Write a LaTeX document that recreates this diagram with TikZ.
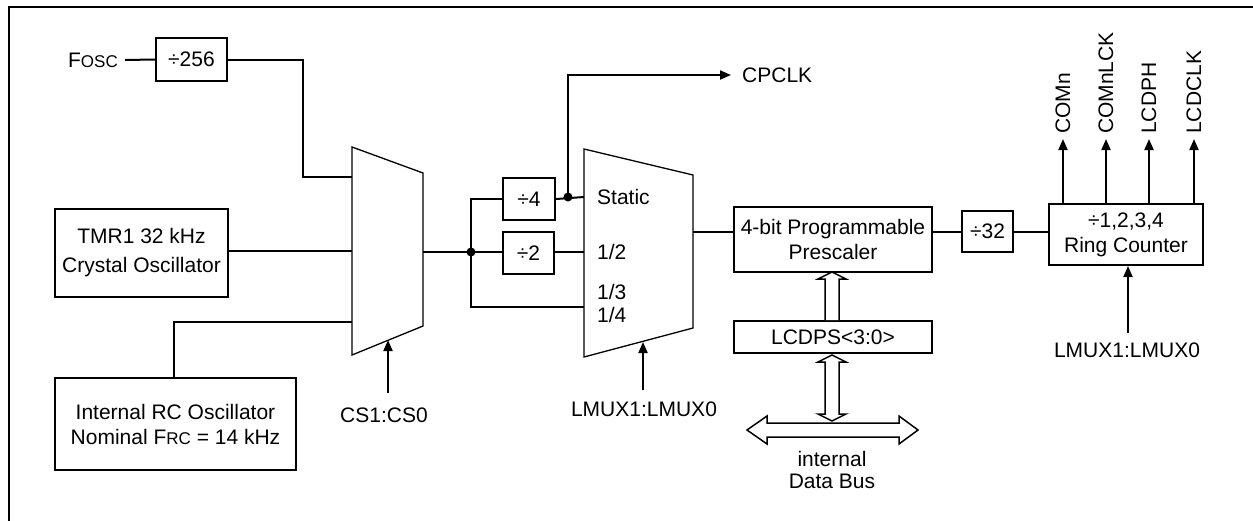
\documentclass[tikz,border=0pt]{standalone}
\usepackage{fontspec}
\setmainfont{Liberation Sans}
\usetikzlibrary{arrows.meta}
\begin{document}
\begin{tikzpicture}[x=1pt,y=-1pt,
  every node/.style={font=\fontsize{21}{25}\selectfont},
  blk/.style={draw,line width=2pt,inner sep=0pt,align=center},
  wire/.style={line width=2pt},
  sig/.style={line width=2pt,-{Triangle[length=11pt,width=9pt]}},
  muxshape/.style={draw,line width=1.3pt,fill=white},
  hollow/.style={draw,line width=1.5pt,fill=white,line join=miter},
  lbl/.style={inner sep=0pt},
  dot/.style={circle,fill,inner sep=0pt,minimum size=9pt}]
\useasboundingbox (0,0) rectangle (1253,520);
% outer frame (only top and left visible)
\draw[line width=2pt] (9,525) -- (9,7) -- (1260,7);
% muxes
\draw[muxshape] (352,147) -- (423,173) -- (423,326) -- (352,355) -- cycle;
\draw[muxshape] (584,149) -- (693,175) -- (693,328) -- (584,357) -- cycle;
\coordinate (m1a) at (352,177);
\coordinate (m1b) at (352,251);
\coordinate (m1c) at (352,322);
\coordinate (m1o) at (423,252);
\coordinate (m1s) at (388,340);
\coordinate (m2a) at (584,197);
\coordinate (m2b) at (584,252);
\coordinate (m2c) at (584,307);
\coordinate (m2o) at (693,232);
\coordinate (m2s) at (643,342);
% blocks
\node[blk,minimum width=71pt,minimum height=43pt] (d256) at (191.5,59.5) {÷256};
\node[blk,minimum width=173pt,minimum height=88pt,font=\fontsize{21}{29}\selectfont] (tmr) at (141.5,253) {TMR1 32 kHz\\Crystal Oscillator};
\node[blk,minimum width=241pt,minimum height=92pt] (rc) at (175.5,424) {Internal RC Oscillator\\Nominal F{\fontsize{17}{17}\selectfont RC} = 14 kHz};
\node[blk,minimum width=52pt,minimum height=42pt] (d4) at (529,199) {÷4};
\node[blk,minimum width=51pt,minimum height=42pt] (d2) at (528.5,253) {÷2};
\node[blk,minimum width=198pt,minimum height=65pt] (pre) at (833,239.5) {4-bit Programmable\\Prescaler};
\node[blk,minimum width=198pt,minimum height=32pt] (ps) at (833,337) {LCDPS<3:0>};
\node[blk,minimum width=51pt,minimum height=41pt] (d32) at (987.5,231.5) {÷32};
\node[blk,minimum width=154pt,minimum height=61pt] (ring) at (1126,234.5) {÷1,2,3,4\\Ring Counter};
% labels
\node[lbl,anchor=east,inner xsep=7pt] (fosc) at (125,60) {F{\fontsize{17}{17}\selectfont OSC}};
\node[lbl,anchor=west,inner xsep=11pt] (cpclk) at (731,75) {CPCLK};
\node[lbl,anchor=west] at (597,197) {Static};
\node[lbl,anchor=west] at (597,252) {1/2};
\node[lbl,anchor=west] at (597,292) {1/3};
\node[lbl,anchor=west] at (597,315) {1/4};
\node[lbl] (cs) at (384,415) {CS1:CS0};
\node[lbl] (lm2) at (644,409) {LMUX1:LMUX0};
\node[lbl] (lm3) at (1127,350) {LMUX1:LMUX0};
\node[lbl] at (832,459) {internal};
\node[lbl] at (832,481) {Data Bus};
% outputs of ring counter
\node[lbl,anchor=west,rotate=90,inner xsep=5pt] (o1) at (1063,139) {COMn};
\node[lbl,anchor=west,rotate=90,inner xsep=5pt] (o2) at (1106,139) {COMnLCK};
\node[lbl,anchor=west,rotate=90,inner xsep=5pt] (o3) at (1149,139) {LCDPH};
\node[lbl,anchor=west,rotate=90,inner xsep=5pt] (o4) at (1194,139) {LCDCLK};
% connectors
\draw[wire] (fosc.east) -- (d256.west);
\draw[wire] (d256.east) -| (303,177) -- (m1a);
\draw[wire] (tmr.east |- m1b) -- (m1b);
\draw[wire] (rc.north -| 174,0) |- (m1c);
\node[dot] (j1) at (471,252) {};
\node[dot] (j2) at (568,197) {};
\draw[wire] (m1o) -- (j1.center) -- (d2.west |- j1);
\draw[wire] (j1.center) |- (d4.west);
\draw[wire] (j1.center) |- (m2c);
\draw[wire] (d4.east) -- (m2a);
\draw[wire] (d2.east |- m2b) -- (m2b);
\draw[sig] (j2.center) |- (cpclk.west);
\draw[wire] (m2o) -- (pre.west |- m2o);
\draw[wire] (pre.east |- d32) -- (d32.west);
\draw[wire] (d32.east) -- (ring.west |- d32);
\coordinate (cs0) at (388,393);
\coordinate (lm20) at (643,390);
\coordinate (lm30) at (1128,333);
\draw[sig] (cs0) -- (m1s);
\draw[sig] (lm20) -- (m2s);
\draw[sig] (lm30) -- (ring.south -| lm30);
\foreach \o in {o1,o2,o3,o4} \draw[sig] (ring.north -| \o.west) -- (\o.west);
% hollow bus arrows
\draw[hollow] (825,320) -- (825,279) -- (818,279) -- (832,272) -- (846,279) -- (839,279) -- (839,320);
\draw[hollow] (832,355) -- (846,362) -- (839,362) -- (839,414) -- (846,414) -- (832,421) -- (818,414) -- (825,414) -- (825,362) -- (818,362) -- cycle;
\draw[hollow] (747,430) -- (767,416) -- (767,423) -- (899,423) -- (899,416) -- (918,430) -- (899,444) -- (899,437) -- (767,437) -- (767,444) -- cycle;
\end{tikzpicture}
\end{document}
